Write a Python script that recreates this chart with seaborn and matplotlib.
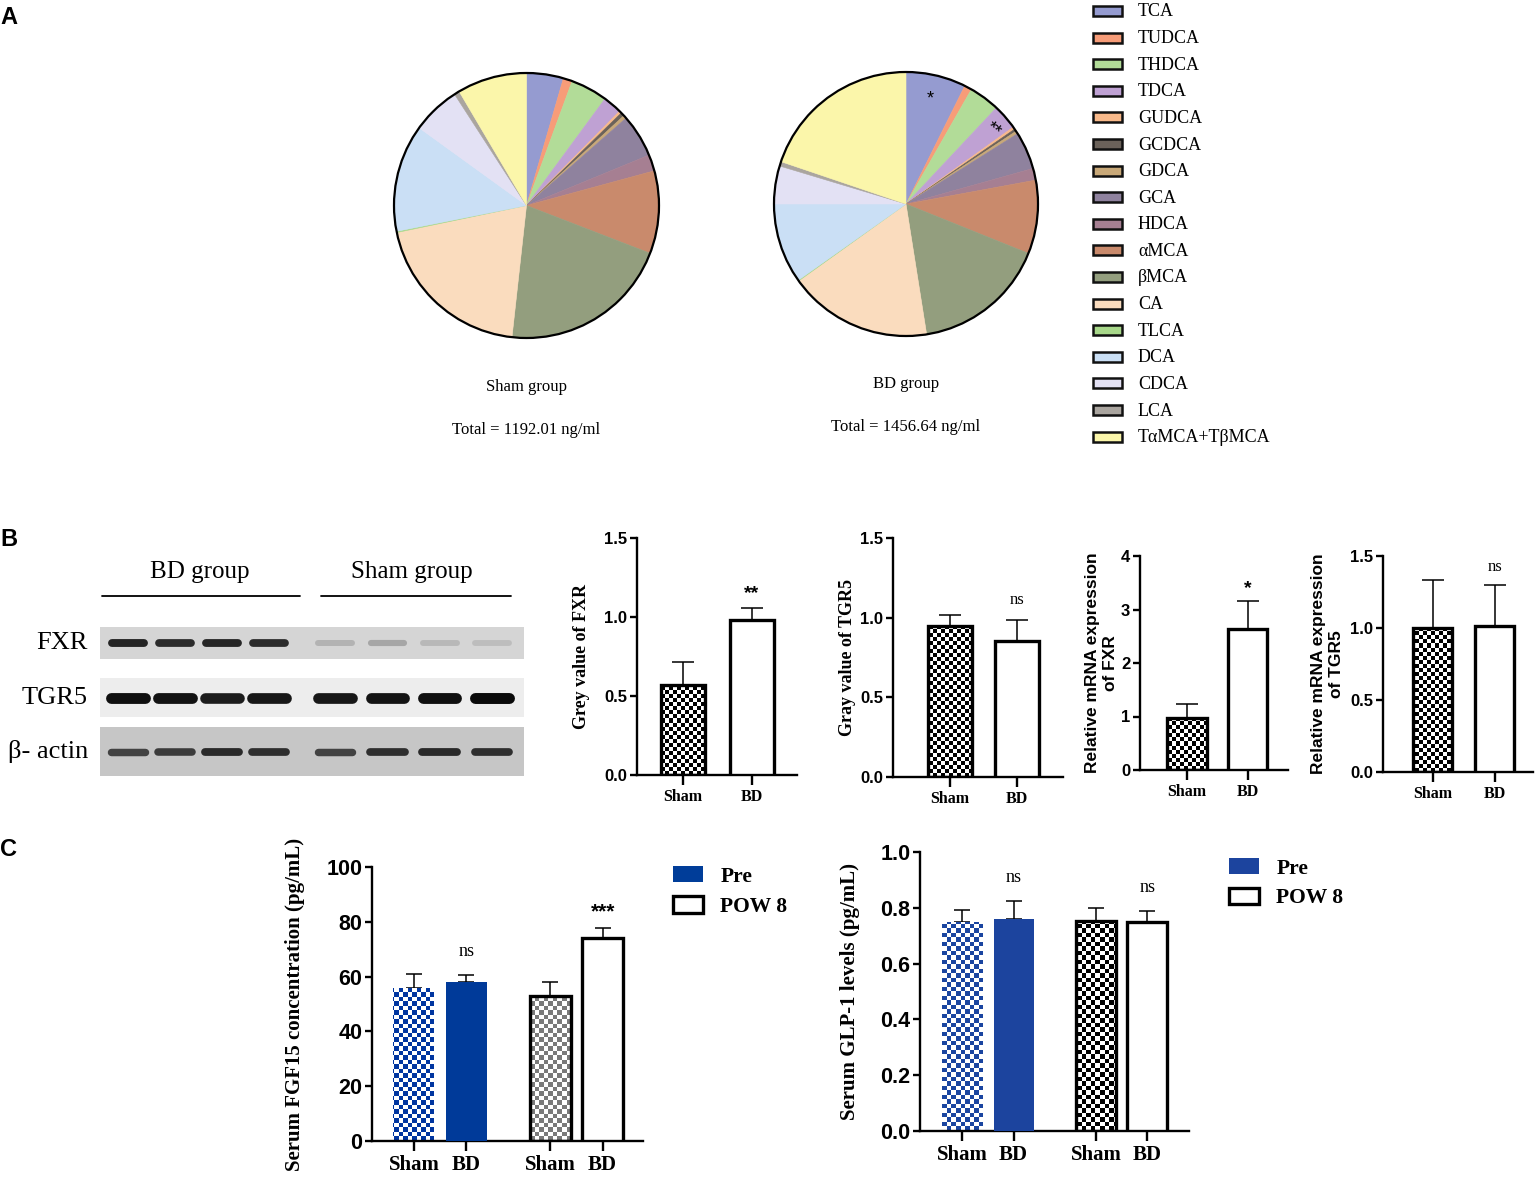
import numpy as np
import pandas as pd
import matplotlib
matplotlib.use("Agg")
import matplotlib.pyplot as plt
from matplotlib.colors import ListedColormap
from matplotlib.patches import Rectangle, Circle, Patch
import seaborn as sns

# ---- panel A: bile acid composition (% of total) ----
bile_acids = ["TCA", "TUDCA", "THDCA", "TDCA", "GUDCA", "GCDCA", "GDCA", "GCA", "HDCA",
              "αMCA", "βMCA", "CA", "TLCA", "DCA", "CDCA", "LCA", "TαMCA+TβMCA"]
bile_colors = ["#959bd0", "#f79c78", "#b2dc98", "#bfa1d3", "#f8b98a", "#6b625a", "#c8a878",
               "#8f829e", "#a67f92", "#c98a6c", "#939e7e", "#fadcbe", "#a8d88a", "#cadff5",
               "#e3e1f4", "#aaa59f", "#fbf6aa"]
sham_pct = [4.5, 1.1, 4.5, 2.3, 0.3, 0.45, 0.4, 5.25, 2.0, 10.1, 20.9, 20.0, 0.15, 13.1, 5.9, 0.65, 8.5]
bd_pct = [7.35, 0.9, 3.75, 3.1, 0.3, 0.3, 0.35, 4.6, 1.45, 9.0, 16.4, 17.6, 0.1, 9.8, 4.65, 0.55, 19.8]
sham_total = 1192.01
bd_total = 1456.64

# ---- panel B ----
groups_b = ["Sham", "BD"]
fxr_grey = [0.567, 0.981]
fxr_grey_sd = [0.151, 0.075]
tgr5_grey = [0.95, 0.854]
tgr5_grey_sd = [0.065, 0.131]
fxr_mrna = [0.98, 2.63]
fxr_mrna_sd = [0.25, 0.53]
tgr5_mrna = [1.003, 1.012]
tgr5_mrna_sd = [0.328, 0.285]
sig_fxr_grey = ["", "**"]
sig_tgr5_grey = ["", "ns"]
sig_fxr_mrna = ["", "*"]
sig_tgr5_mrna = ["", "ns"]

# western blot band darkness (0 = none, 1 = black), 4 BD lanes then 4 Sham lanes
blot_rows = ["FXR", "TGR5", "β- actin"]
fxr_bands = [0.86, 0.83, 0.85, 0.83, 0.30, 0.35, 0.28, 0.26]
tgr5_bands = [0.94, 0.93, 0.89, 0.91, 0.91, 0.92, 0.94, 0.96]
actin_bands = [0.74, 0.77, 0.84, 0.82, 0.74, 0.82, 0.84, 0.82]

# ---- panel C ----
c_labels = ["Sham", "BD", "Sham", "BD"]
c_keys = ["Sham Pre", "BD Pre", "Sham POW 8", "BD POW 8"]
fgf15 = [56.0, 58.0, 53.0, 74.0]
fgf15_sd = [4.9, 2.5, 4.9, 3.7]
glp1 = [0.749, 0.760, 0.751, 0.749]
glp1_sd = [0.044, 0.065, 0.050, 0.038]
sig_fgf15 = ["", "ns", "", "***"]
sig_glp1 = ["", "ns", "", "ns"]

W, H = 1536, 1178
SERIF = ["Liberation Serif", "DejaVu Serif"]
SANS = ["Liberation Sans", "DejaVu Sans"]

sns.set_style("ticks", {"axes.edgecolor": "black", "xtick.color": "black",
                        "ytick.color": "black", "text.color": "black",
                        "axes.labelcolor": "black"})
plt.rcParams["font.family"] = SANS

fig = plt.figure(figsize=(W / 100, H / 100), dpi=100)


def px_axes(left, top, right, bottom):
    return fig.add_axes([left / W, 1 - bottom / H, (right - left) / W, (bottom - top) / H])


def checker(ax, patch, color, cell):
    bb = ax.get_position()
    nx = int(round(bb.width * W / cell))
    ny = int(round(bb.height * H / cell))
    arr = np.indices((ny, nx)).sum(axis=0) % 2
    im = ax.imshow(arr, cmap=ListedColormap(["white", color]), extent=(0, 1, 0, 1),
                   transform=ax.transAxes, interpolation="nearest", aspect="auto", zorder=2.5)
    im.set_clip_path(patch)
    patch.set_facecolor("none")


def bar_panel(ax, pos, vals, sds, keys, ticklabels, faces, edges, checks, width,
              xlim, ymax, yticks, yfmt, ylabel, ylabel_x, sig, fs, cell, cap, lab_font):
    df = pd.DataFrame({"pos": pos, "value": vals, "key": keys})
    sns.barplot(data=df, x="pos", y="value", hue="key", palette=dict(zip(keys, faces)),
                dodge=False, native_scale=True, width=width, errorbar=None, saturation=1,
                legend=False, ax=ax, zorder=3)
    for p in list(ax.patches):
        cx = p.get_x() + p.get_width() / 2
        i = int(np.argmin(np.abs(np.array(pos) - cx)))
        if edges[i]:
            p.set_edgecolor("black")
            p.set_linewidth(edges[i])
        else:
            p.set_linewidth(0)
        if checks[i]:
            checker(ax, p, checks[i], cell)
    ax.errorbar(pos, vals, yerr=[np.zeros(len(vals)), sds], fmt="none", ecolor="black",
                elinewidth=1.1, capsize=cap, capthick=1.1, zorder=2)
    for x, v, s, t in zip(pos, vals, sds, sig):
        if not t:
            continue
        top = v + s
        if t == "ns":
            ax.text(x, top + 0.085 * ymax, t, ha="center", va="center",
                    fontsize=fs["sig"], family=SERIF)
        else:
            ax.text(x, top + 0.06 * ymax, t, ha="center", va="center",
                    fontsize=fs["sig"] + 2, fontweight="bold", family=SANS)
    ax.set_xlim(*xlim)
    ax.set_ylim(0, ymax)
    ax.set_yticks(yticks)
    ax.set_yticklabels([yfmt.format(t) for t in yticks], fontsize=fs["ytick"],
                       fontweight="bold", family=SANS)
    ax.set_xticks(pos)
    ax.set_xticklabels(ticklabels, fontsize=fs["xtick"], fontweight="bold", family=SERIF)
    ax.set_xlabel("")
    ax.set_ylabel(ylabel, fontsize=fs["ylabel"], fontweight="bold", family=lab_font,
                  linespacing=1.25)
    bb = ax.get_position()
    ax.yaxis.set_label_coords(ylabel_x / (bb.width * W), 0.5)
    sns.despine(ax=ax)
    for sp in ["left", "bottom"]:
        ax.spines[sp].set_linewidth(1.7)
    ax.tick_params(axis="y", length=5, width=1.7, pad=2)
    ax.tick_params(axis="x", length=7, width=1.7, pad=3)
    ax.set_facecolor("none")


# ---- pies ----
pie_axes = []
for (l, t, r, b), pct in [((394, 73, 659, 338), sham_pct), ((774, 72, 1038, 336), bd_pct)]:
    ax = px_axes(l, t, r, b)
    wedges, _ = ax.pie(pct, colors=bile_colors, startangle=90, counterclock=False,
                       radius=1, wedgeprops={"linewidth": 0})
    for w_ in wedges:
        w_.set_edgecolor(w_.get_facecolor())
        w_.set_linewidth(0.4)
    ax.add_patch(Circle((0, 0), 1, fill=False, ec="black", lw=1.6, clip_on=False))
    ax.set_xlim(-1, 1)
    ax.set_ylim(-1, 1)
    ax.axis("off")
    pie_axes.append(ax)

# ---- overlay for free text, blot and legend ----
ov = fig.add_axes([0, 0, 1, 1])
ov.set_xlim(0, W)
ov.set_ylim(H, 0)
ov.axis("off")

for lab, y in [("A", 17), ("B", 540), ("C", 850)]:
    ov.text(0, y, lab, fontsize=17, fontweight="bold", family=SANS, ha="left", va="center")

for cx, ty, name, total in [(526.5, 0, "Sham group", sham_total), (906, -3, "BD group", bd_total)]:
    ov.text(cx, 387 + ty, name, ha="center", va="center", fontsize=12, family=SERIF)
    ov.text(cx, 430 + ty, f"Total = {total:.2f} ng/ml", ha="center", va="center",
            fontsize=12, family=SERIF)

ov.text(930, 99, "*", ha="center", va="center", fontsize=13)
ov.text(993, 130, "**", ha="center", va="center", fontsize=13, rotation=-38)

for i, (name, col) in enumerate(zip(bile_acids, bile_colors)):
    y = 11 + i * 26.6
    ov.add_patch(Rectangle((1093, y - 5), 29, 10, fc=col, ec="#111111", lw=1.8))
    ov.text(1138, y + 1, name, ha="left", va="center", fontsize=13, family=SERIF)

# ---- western blot ----
lanes = list(np.linspace(128, 269, 4)) + list(np.linspace(335, 492, 4))
strips = [(627, 659, "#d5d5d5", fxr_bands, 6.0, 38),
          (678, 717, "#ededed", tgr5_bands, 8.0, 41),
          (727, 776, "#c6c6c6", actin_bands, 6.0, 40)]
for name, (y0, y1, bg, bands, thick, bw) in zip(blot_rows, strips):
    ov.add_patch(Rectangle((100, y0), 424, y1 - y0, fc=bg, ec="none"))
    cy = (y0 + y1) / 2
    for x, d in zip(lanes, bands):
        g = 1 - d
        shade = (g, g, g)
        th = thick * (0.6 + 0.4 * d)
        ov.plot([x - bw / 2 + th / 2, x + bw / 2 - th / 2], [cy, cy], color=shade,
                lw=th, solid_capstyle="round")
    ov.text(88, cy, name, ha="right", va="center", fontsize=19, family=SERIF)

ov.text(200, 572, "BD group", ha="center", va="center", fontsize=18, family=SERIF)
ov.text(412, 572, "Sham group", ha="center", va="center", fontsize=18, family=SERIF)
ov.plot([102, 300], [596, 596], color="black", lw=1.3)
ov.plot([321, 511], [596, 596], color="black", lw=1.3)

# ---- panel B bars ----
fs_b = {"sig": 12, "ytick": 12, "xtick": 11.5, "ylabel": 13}
fs_b2 = dict(fs_b, ylabel=12.5)
b_faces = ["white", "white"]
b_edges = [2.4, 2.4]
b_checks = ["black", None]

ax1 = px_axes(637, 538, 797, 775)
bar_panel(ax1, [0, 1], fxr_grey, fxr_grey_sd, groups_b, groups_b, b_faces, b_edges, b_checks,
          0.64, (-0.67, 1.66), 1.5, [0, 0.5, 1.0, 1.5], "{:.1f}", "Grey value of FXR",
          -47, sig_fxr_grey, fs_b, 4, 8, SERIF)

ax2 = px_axes(893, 538, 1063, 777)
bar_panel(ax2, [0, 1], tgr5_grey, tgr5_grey_sd, groups_b, groups_b, b_faces, b_edges, b_checks,
          0.66, (-0.85, 1.69), 1.5, [0, 0.5, 1.0, 1.5], "{:.1f}", "Gray value of TGR5",
          -37, sig_tgr5_grey, fs_b, 4, 8, SERIF)

ax3 = px_axes(1140, 556, 1288, 770)
bar_panel(ax3, [0, 1], fxr_mrna, fxr_mrna_sd, groups_b, groups_b, b_faces, b_edges, b_checks,
          0.66, (-0.78, 1.67), 4, [0, 1, 2, 3, 4], "{:d}",
          "Relative mRNA expression\nof FXR", -22, sig_fxr_mrna, fs_b2, 4, 8, SANS)

ax4 = px_axes(1383, 556, 1533, 772)
bar_panel(ax4, [0, 1], tgr5_mrna, tgr5_mrna_sd, groups_b, groups_b, b_faces, b_edges, b_checks,
          0.63, (-0.8, 1.62), 1.5, [0, 0.5, 1.0, 1.5], "{:.1f}",
          "Relative mRNA expression\nof TGR5", -39, sig_tgr5_mrna, fs_b2, 4, 8, SANS)

# ---- panel C bars ----
fs_c = {"sig": 13, "ytick": 15.5, "xtick": 15, "ylabel": 15}
c_pos = [0, 1, 2.6, 3.6]

ax5 = px_axes(372, 867, 643, 1141)
bar_panel(ax5, c_pos, fgf15, fgf15_sd, c_keys, c_labels,
          ["#0035a0", "#003a99", "white", "white"], [0, 0, 2.4, 2.4],
          ["#0035a0", None, "#7a7a7a", None], 0.78, (-0.8, 4.37), 100,
          [0, 20, 40, 60, 80, 100], "{:d}", "Serum FGF15 concentration (pg/mL)",
          -67, sig_fgf15, fs_c, 4.5, 6, SERIF)
ax5.legend(handles=[Patch(fc="#003d99", ec="none", label="Pre"),
                    Patch(fc="white", ec="black", lw=2.4, label="POW 8")],
           loc="upper left", bbox_to_anchor=(673 / W, 1 - 866 / H),
           bbox_transform=fig.transFigure, frameon=False, handlelength=1.4,
           handleheight=0.8, handletextpad=0.8, labelspacing=0.45, borderpad=0, borderaxespad=0,
           prop={"family": SERIF, "weight": "bold", "size": 15.5})

ax6 = px_axes(920, 852, 1189, 1131)
bar_panel(ax6, c_pos, glp1, glp1_sd, c_keys, c_labels,
          ["#1a45a0", "#1c449e", "white", "white"], [0, 0, 2.4, 2.4],
          ["#1a45a0", None, "black", None], 0.78, (-0.82, 4.41), 1.0,
          [0, 0.2, 0.4, 0.6, 0.8, 1.0], "{:.1f}", "Serum GLP-1 levels (pg/mL)",
          -60, sig_glp1, fs_c, 4.5, 6, SERIF)
ax6.legend(handles=[Patch(fc="#1c449e", ec="none", label="Pre"),
                    Patch(fc="white", ec="black", lw=2.4, label="POW 8")],
           loc="upper left", bbox_to_anchor=(1229 / W, 1 - 858 / H),
           bbox_transform=fig.transFigure, frameon=False, handlelength=1.4,
           handleheight=0.8, handletextpad=0.8, labelspacing=0.42, borderpad=0, borderaxespad=0,
           prop={"family": SERIF, "weight": "bold", "size": 15.5})

fig.savefig("out.png", dpi=100)
